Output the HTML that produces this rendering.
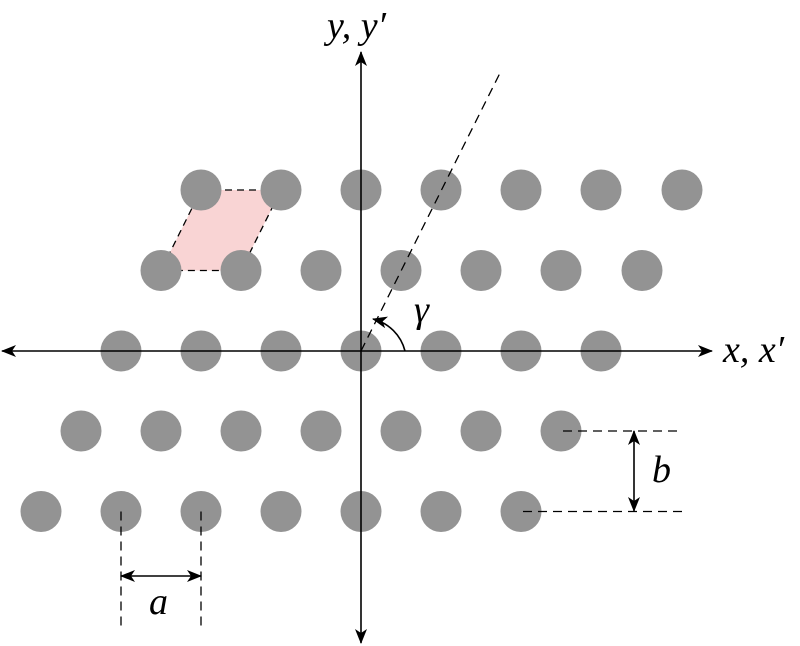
<!DOCTYPE html>
<html><head><meta charset="utf-8"><style>html,body{margin:0;padding:0;background:#fff;}svg{display:block}
.t{font-family:"Liberation Serif","DejaVu Serif",serif;font-style:italic;font-size:38px;fill:#000;}</style></head>
<body>
<svg width="800" height="646" viewBox="0 0 800 646" xmlns="http://www.w3.org/2000/svg">
<defs>
<marker id="ah" viewBox="0 0 15 12" refX="14" refY="6" markerWidth="15" markerHeight="12" markerUnits="userSpaceOnUse" orient="auto-start-reverse">
<path d="M0,0 L15,6 L0,12 L4,6 Z" fill="#000"/>
</marker>
</defs>
<polygon points="201,190 281,190 241,270.5 161,270.5" fill="#f9d4d4" stroke="#000" stroke-width="1.3" stroke-dasharray="7,5"/>
<g fill="#939393">
<circle cx="201" cy="190" r="20.5"/><circle cx="281" cy="190" r="20.5"/><circle cx="361" cy="190" r="20.5"/><circle cx="441" cy="190" r="20.5"/><circle cx="521" cy="190" r="20.5"/><circle cx="601" cy="190" r="20.5"/><circle cx="682" cy="190" r="20.5"/>
<circle cx="161" cy="270.5" r="20.5"/><circle cx="241" cy="270.5" r="20.5"/><circle cx="321" cy="270.5" r="20.5"/><circle cx="401" cy="270.5" r="20.5"/><circle cx="481" cy="270.5" r="20.5"/><circle cx="561" cy="270.5" r="20.5"/><circle cx="642" cy="270.5" r="20.5"/>
<circle cx="121" cy="351" r="20.5"/><circle cx="201" cy="351" r="20.5"/><circle cx="281" cy="351" r="20.5"/><circle cx="361" cy="351" r="20.5"/><circle cx="441" cy="351" r="20.5"/><circle cx="521" cy="351" r="20.5"/><circle cx="601" cy="351" r="20.5"/>
<circle cx="81" cy="431" r="20.5"/><circle cx="161" cy="431" r="20.5"/><circle cx="241" cy="431" r="20.5"/><circle cx="321" cy="431" r="20.5"/><circle cx="401" cy="431" r="20.5"/><circle cx="481" cy="431" r="20.5"/><circle cx="561" cy="431" r="20.5"/>
<circle cx="41" cy="511.5" r="20.5"/><circle cx="121" cy="511.5" r="20.5"/><circle cx="201" cy="511.5" r="20.5"/><circle cx="281" cy="511.5" r="20.5"/><circle cx="361" cy="511.5" r="20.5"/><circle cx="441" cy="511.5" r="20.5"/><circle cx="521" cy="511.5" r="20.5"/>
</g>
<g stroke="#000" stroke-width="1.3" fill="none">
<line x1="361" y1="351" x2="501" y2="71" stroke-dasharray="9,6"/>
<line x1="563" y1="431" x2="682" y2="431" stroke-dasharray="9,6"/>
<line x1="523" y1="511.5" x2="682" y2="511.5" stroke-dasharray="9,6"/>
<line x1="121" y1="511.5" x2="121" y2="628" stroke-dasharray="9,6"/>
<line x1="201" y1="511.5" x2="201" y2="628" stroke-dasharray="9,6"/>
</g>
<g stroke="#000" stroke-width="1.6" fill="none">
<line x1="2" y1="351" x2="712" y2="351" marker-start="url(#ah)" marker-end="url(#ah)"/>
<line x1="361" y1="52" x2="361" y2="643" marker-start="url(#ah)" marker-end="url(#ah)"/>
<line x1="634" y1="431" x2="634" y2="511" marker-start="url(#ah)" marker-end="url(#ah)"/>
<line x1="121" y1="576" x2="201" y2="576" marker-start="url(#ah)" marker-end="url(#ah)"/>
<path d="M405,351 A44,44 0 0 0 373,319" marker-end="url(#ah)"/>
</g>
<text class="t" x="327" y="38">y, y′</text>
<text class="t" x="723" y="362">x, x′</text>
<text class="t" x="414" y="322">γ</text>
<text class="t" x="652" y="482">b</text>
<text class="t" x="149" y="614">a</text>
</svg>
</body></html>
